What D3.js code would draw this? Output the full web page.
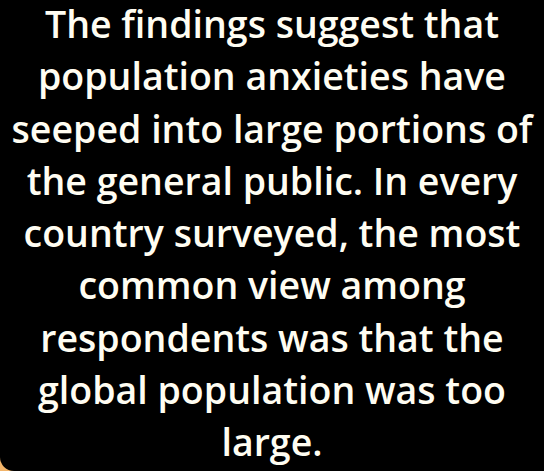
<!DOCTYPE html>
<html><head><meta charset="utf-8">
<script src="https://cdn.jsdelivr.net/npm/d3@7"></script>
<style>html,body{margin:0;padding:0;background:#000;overflow:hidden}</style>
</head><body>
<svg id="c" width="544" height="471"></svg>
<script>
const lines = [
  "The findings suggest that",
  "population anxieties have",
  "seeped into large portions of",
  "the general public. In every",
  "country surveyed, the most",
  "common view among",
  "respondents was that the",
  "global population was too",
  "large."
];
const W = 544, H = 471;
const svg = d3.select("#c");
svg.append("rect").attr("width", W).attr("height", H).attr("fill", "#f2b46a");
svg.append("path").attr("d", `M0,0H${W}V${H}H14A14,14 0 0 1 0,${H-14}Z`).attr("fill", "#000");
const y = d3.scaleLinear().domain([0, lines.length - 1]).range([38, 456]);
const g = svg.append("g");
const t = g.selectAll("text").data(lines).join("text")
  .attr("x", W / 2).attr("y", (d, i) => y(i))
  .attr("text-anchor", "middle")
  .attr("fill", "#fffdf2")
  .attr("font-family", "'Open Sans', 'Noto Sans', sans-serif")
  .attr("font-weight", 600)
  .attr("font-size", 32)
  .text(d => d);
// fit widest line to ~521px
const widest = d3.max(t.nodes(), n => n.getComputedTextLength());
const fs = 32 * 521 / widest;
t.attr("font-size", fs);
</script>
</body></html>
